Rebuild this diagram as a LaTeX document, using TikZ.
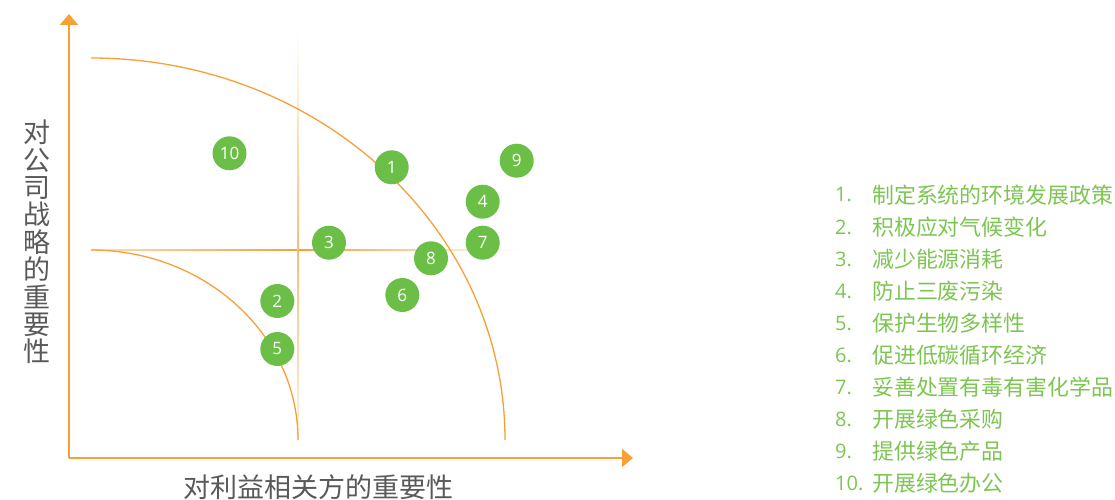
\documentclass[tikz,border=0pt]{standalone}
\usepackage{fontspec}
\setmainfont{Open Sans}
\newfontfamily\cjk{Noto Sans CJK SC}
\usetikzlibrary{arrows.meta}
\definecolor{axor}{HTML}{F7A035}
\definecolor{bubg}{HTML}{6CBF46}
\definecolor{legg}{HTML}{7DC552}
\definecolor{txg}{HTML}{595959}
\begin{document}
\begin{tikzpicture}[x=1pt,y=-1pt,
  bub/.style={circle, fill=bubg, minimum size=34pt, inner sep=0pt, text=white, font=\fontsize{17}{17}\selectfont},
  legnum/.style={anchor=west, text=legg, font=\fontsize{20}{20}\selectfont, inner sep=0pt},
  legtxt/.style={anchor=west, text=legg, font=\cjk\fontsize{21.9}{21.9}\selectfont, inner sep=0pt},
  axisline/.style={draw=axor, line width=2.4pt, -{Triangle[length=11pt,width=18pt]}},
  arcline/.style={draw=axor, line width=1.3pt},
  axlabel/.style={text=txg, font=\cjk\fontsize{27}{27.4}\selectfont, inner sep=0pt}]
\useasboundingbox (0,0) rectangle (1115,500);
% crosshair
\shade[left color=axor!35, right color=axor] (91,249.4) rectangle (298,250.6);
\shade[left color=axor, right color=white] (298,249.4) rectangle (520,250.6);
\shade[top color=white, bottom color=axor!70] (297.4,30) rectangle (298.6,250);
\shade[top color=axor!70, bottom color=axor!12] (297.4,250) rectangle (298.6,440);
% arcs
\draw[arcline] (91,58) arc[start angle=-90, end angle=0, x radius=414, y radius=382];
\draw[arcline] (91,250) arc[start angle=-90, end angle=0, x radius=207, y radius=190];
% axes
\coordinate (origin) at (69,458);
\coordinate (ytip) at (69,14);
\coordinate (xtip) at (633,458);
\draw[axisline] (origin) -- (ytip);
\draw[axisline] (origin) -- (xtip);
% axis labels
\node[axlabel, align=center] (ylab) at (37,242) {对\\公\\司\\战\\略\\的\\重\\要\\性};
\node[axlabel] (xlab) at (318,487) {对利益相关方的重要性};
% bubbles
\node[bub] (c10) at (229.5,153.3) {10};
\node[bub] (c1) at (391.7,167.3) {1};
\node[bub] (c9) at (516.7,160.7) {9};
\node[bub] (c4) at (482.7,201.7) {4};
\node[bub] (c3) at (329,242.7) {3};
\node[bub] (c7) at (482.7,242.7) {7};
\node[bub] (c8) at (431,258.3) {8};
\node[bub] (c6) at (402.3,295) {6};
\node[bub] (c2) at (277.3,301) {2};
\node[bub] (c5) at (277.3,349) {5};
% legend
\foreach \i/\t [count=\k from 0] in {1./制定系统的环境发展政策, 2./积极应对气候变化, 3./减少能源消耗, 4./防止三废污染, 5./保护生物多样性, 6./促进低碳循环经济, 7./妥善处置有毒有害化学品, 8./开展绿色采购, 9./提供绿色产品, 10./开展绿色办公}{
  \node[legnum] (n\k) at (835,195+32*\k) {\i};
  \node[legtxt] (t\k) at (872,195+32*\k) {\t};
}
\end{tikzpicture}
\end{document}
